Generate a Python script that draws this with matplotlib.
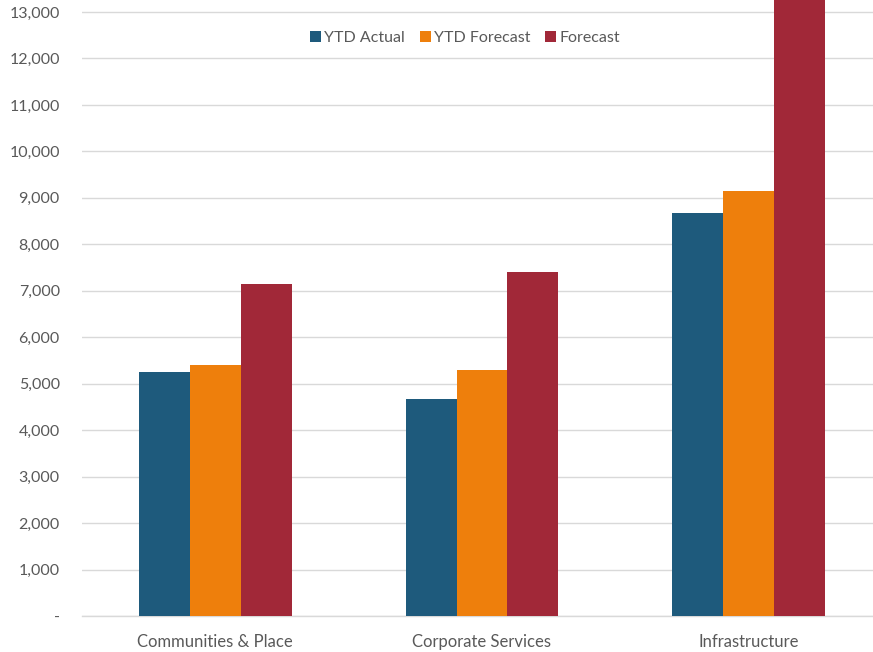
import numpy as np
import matplotlib
matplotlib.use("Agg")
import matplotlib.pyplot as plt
from matplotlib.ticker import FuncFormatter, FixedLocator

categories = ["Communities & Place", "Corporate Services", "Infrastructure"]
series_names = ["YTD Actual", "YTD Forecast", "Forecast"]
ytd_actual = [5260, 4670, 8680]
ytd_forecast = [5400, 5300, 9150]
forecast = [7150, 7410, 14500]
colors = ["#1E5A7C", "#EE7F0C", "#A12838"]
y_ticks = list(range(0, 13001, 1000))

plt.rcParams["font.family"] = ["Lato", "DejaVu Sans"]

fig = plt.figure(figsize=(8.73, 6.52), dpi=100)
W, H = 873, 652
left, right = 82 / W, 882 / W
bottom = (H - 616) / H
top = (H + 34.5) / H
ax = fig.add_axes([left, bottom, right - left, top - bottom])

x = np.arange(len(categories))
bw = 0.191
for i, (vals, name, col) in enumerate(zip([ytd_actual, ytd_forecast, forecast], series_names, colors)):
    ax.bar(x + (i - 1) * bw, vals, width=bw, color=col, label=name, zorder=3)

ax.set_xlim(-0.5, len(categories) - 0.5)
ax.set_ylim(0, 14000)
ax.yaxis.set_major_locator(FixedLocator(y_ticks))
ax.yaxis.set_major_formatter(FuncFormatter(lambda v, p: "-" if v == 0 else f"{int(v):,}"))
ax.set_xticks(x)
ax.set_xticklabels(categories)
ax.grid(axis="y", color="#D9D9D9", linewidth=1.0, zorder=0)
for s in ["top", "right", "left"]:
    ax.spines[s].set_visible(False)
ax.spines["bottom"].set_color("#D9D9D9")
ax.spines["bottom"].set_linewidth(1.0)
ax.tick_params(axis="both", length=0, labelcolor="#595959")
ax.tick_params(axis="y", pad=16, labelsize=11.5)
ax.tick_params(axis="x", pad=13, labelsize=12)

handles, labels = ax.get_legend_handles_labels()
fig.legend(handles, labels, loc="center", bbox_to_anchor=(465 / W, 1 - 38 / H), ncol=3,
           frameon=False, fontsize=11.5, labelcolor="#595959", handlelength=0.7,
           handleheight=0.7, handletextpad=0.2, columnspacing=0.9)

fig.savefig("out.png", dpi=100)
